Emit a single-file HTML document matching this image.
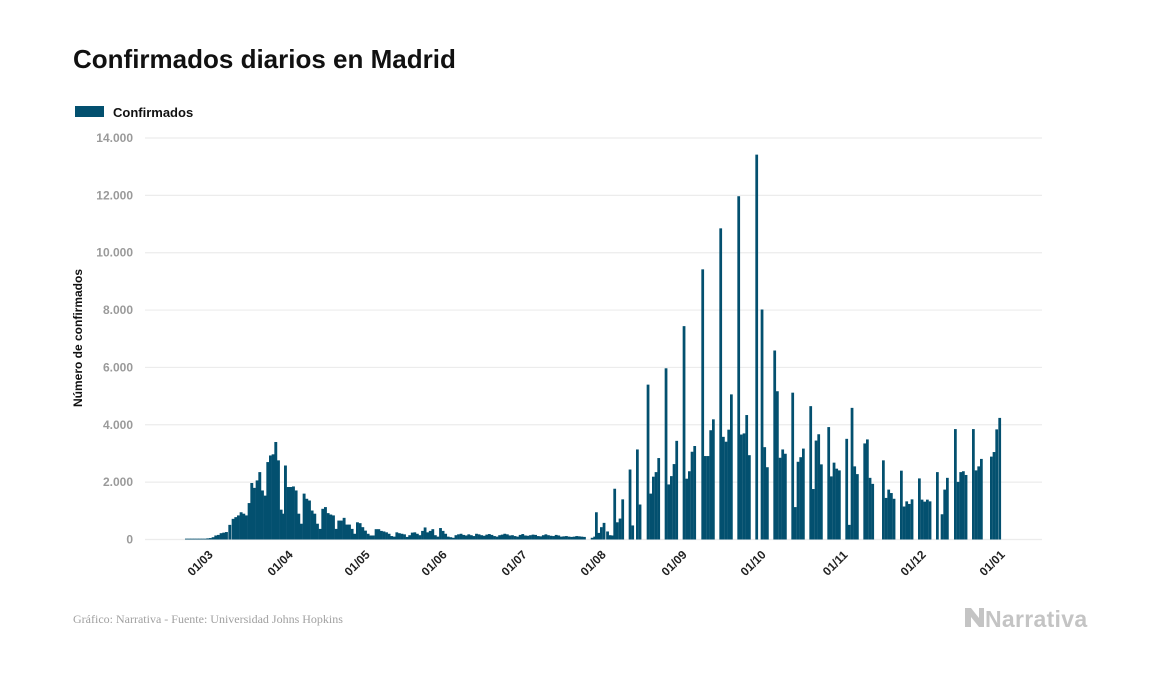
<!DOCTYPE html>
<html><head><meta charset="utf-8"><style>
html,body{margin:0;padding:0;background:#fff;width:1157px;height:674px;overflow:hidden}
svg{display:block}
</style></head><body>
<svg id="s" width="1157" height="674" xmlns="http://www.w3.org/2000/svg" font-family="Liberation Sans, sans-serif">
<text x="73" y="68" font-size="26" font-weight="bold" fill="#111">Confirmados diarios en Madrid</text>
<rect x="75" y="106" width="29" height="11" fill="#03506f"/>
<text x="113" y="117" font-size="13" font-weight="bold" fill="#111">Confirmados</text>
<g id="grid" stroke="#ececec" stroke-width="1.2"></g>
<g id="yl" font-size="12" font-weight="bold" fill="#9a9a9a" text-anchor="end"></g>
<text transform="translate(82,338) rotate(-90)" font-size="12" font-weight="bold" fill="#111" text-anchor="middle">Número de confirmados</text>
<g id="bars" fill="#03506f"></g>
<g id="xl" font-size="12" font-weight="bold" fill="#222" text-anchor="middle"></g>
<text x="73" y="623" font-size="12" fill="#a0a0a0" font-family="Liberation Serif, serif">Gráfico: Narrativa - Fuente: Universidad Johns Hopkins</text>
<g fill="#c4c4c4"><path d="M965 608 l6 0 l8 10 l0 -10 l5 0 l0 19 l-5 0 l-8 -10 l0 10 l-6 0z"/></g>
<text x="985" y="627" font-size="23" font-weight="bold" fill="#c4c4c4" letter-spacing="0.3">Narrativa</text>
</svg>
<script>
var ns="http://www.w3.org/2000/svg";
function el(p,t,a,txt){var e=document.createElementNS(ns,t);for(var k in a)e.setAttribute(k,a[k]);if(txt)e.textContent=txt;document.getElementById(p).appendChild(e);}
var Y0=539.5,S=401.5/14000;
var labs=["0","2.000","4.000","6.000","8.000","10.000","12.000","14.000"];
for(var i=0;i<8;i++){var y=Y0-i*2000*S;el("grid","line",{x1:145,x2:1042,y1:y,y2:y});el("yl","text",{x:133,y:y+4},labs[i]);}
function bar(x,v,w){var h=v*S;el("bars","rect",{x:x,y:Y0-h,width:w||2.3,height:h});}
var e=[[135,30],[143,30],[151,30],[159,30],[167,30],[175,30],[183,30],[191,30],[199,40],[207,50],[215,80],[223,140],[231,160],[239,220],[247,240],[255,260],[265,510],[275,720],[283,780],[291,840],[299,950],[307,900],[315,840],[323,1270],[331,1970],[339,1800],[347,2060],[355,2350],[363,1710],[371,1530],[379,2700],[387,2930],[395,2970],[403,3400],[411,2760],[419,1040],[425,900],[432,2580],[440,1830],[448,1830],[456,1850],[464,1710],[472,900],[480,550],[488,1600],[496,1420],[504,1360],[512,1010],[520,900],[528,550],[536,370],[544,1070],[552,1130],[560,920],[568,870],[576,840],[584,370],[592,660],[600,660],[608,755],[616,520],[624,520],[632,370],[640,200],[648,600],[656,570],[664,430],[672,310],[680,200],[688,140],[696,140],[704,360],[712,360]];
e.forEach(function(b){bar(140+b[0]/3,b[1],2.9);});
var low=[300,280,250,200,120,100,250,220,200,180,90,150,240,250,200,150,300,420,250,300,360,150,100,400,300,200,100,80,60,150,180,200,160,140,180,150,120,200,180,150,130,170,190,160,120,100,150,170,200,180,140,150,120,100,160,190,140,130,150,170,160,120,110,150,180,150,130,120,160,140,100,110,120,100,90,100,120,110,100,90,0,0,60,100,120,110,0,0,280,150,140,250,0];
for(var i=0;i<low.length;i++){if(low[i])bar(380+i*2.57,low[i],2.8);}
var z2=[[15,950],[22,230],[30,430],[38,580],[70,1770],[78,600],[86,730],[94,1400],[116,2440],[124,490],[138,3140],[146,1220],[170,5400],[178,1600],[186,2190],[194,2350],[202,2840],[224,5970],[232,1920],[240,2210],[248,2630],[256,3440],[278,7440],[286,2120],[294,2380],[302,3060],[310,3260],[334,9420],[342,2910],[350,2910],[358,3810],[366,4190],[388,10850],[396,3580],[404,3410],[412,3830],[420,5060],[442,11970],[450,3660],[458,3700],[466,4340],[474,2940],[496,13420],[512,8020],[520,3220],[528,2520],[550,6590],[558,5170],[566,2850],[574,3140],[582,2990],[604,5120],[612,1130],[620,2710],[628,2870],[636,3170]];
z2.forEach(function(b){bar(590+b[0]/3,b[1],2.75);});
var z3=[[28,4650],[36,1760],[44,3450],[52,3670],[60,2620],[82,3920],[90,2200],[98,2680],[106,2470],[114,2410],[136,3510],[144,510],[152,4590],[160,2550],[168,2280],[190,3350],[198,3490],[206,2150],[214,1940],[246,2760],[254,1450],[262,1740],[270,1620],[278,1420],[300,2400],[308,1150],[316,1330],[324,1240],[332,1400],[354,2130],[362,1390],[370,1320],[378,1390],[386,1330],[408,2350],[422,880],[430,1740],[438,2150],[462,3850],[470,2010],[478,2350],[486,2380],[494,2250],[516,3850],[524,2410],[532,2550],[540,2810],[570,2890],[578,3050],[586,3840],[595,4240]];
z3.forEach(function(b){bar(800+b[0]/3,b[1],2.75);});
var xl=[["01/03",203],["01/04",283],["01/05",360],["01/06",437],["01/07",517],["01/08",596],["01/09",677],["01/10",756],["01/11",838],["01/12",916],["01/01",995]];
xl.forEach(function(l){el("xl","text",{transform:"translate("+l[1]+",566) rotate(-45)"},l[0]);});
</script>
</body></html>
